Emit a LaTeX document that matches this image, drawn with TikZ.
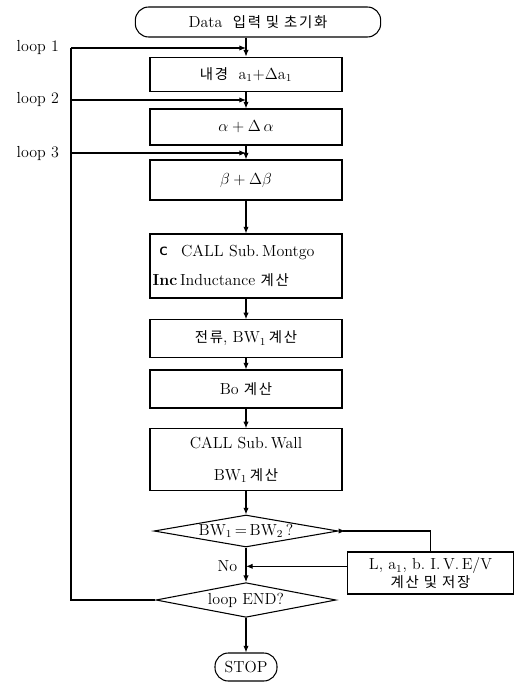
\documentclass[tikz,border=0pt]{standalone}
\usepackage{fontspec}
\usepackage{amsmath}
\usetikzlibrary{shapes.geometric, arrows.meta, positioning}
\newfontfamily\kr[Scale=0.9,LetterSpace=12]{Noto Sans CJK KR}

\begin{document}
\begin{tikzpicture}[
    x=0.75pt, y=-0.75pt, >={Latex[length=5pt,width=4pt]},
    every node/.style={font=\fontsize{12}{14}\selectfont},
    box/.style={rectangle, draw=black, thick, minimum width=144pt, inner sep=2pt, align=center},
    term/.style={rectangle, rounded corners=10pt, draw=black, thick, minimum height=22.5pt},
    decision/.style={diamond, draw=black, thick, inner sep=0pt}
]
    \useasboundingbox (0,0) rectangle (523,688);

    % Start
    \node[term, minimum width=184pt] (start) at (258,22) {Data\ \ {\kr 입력 및 초기화}};

    % Loop boxes
    \node[box, minimum height=26pt] (radius) at (246,74.5) {{\kr 내경}\ \ a$_1$+$\Delta$a$_1$};
    \node[box, minimum height=27pt] (alpha) at (246,127) {$\alpha+\Delta\,\alpha$};
    \node[box, minimum height=30pt] (beta) at (246,180) {$\beta+\Delta\beta$};

    % Subroutines
    \node[box, minimum height=48pt, text width=140pt, align=left] (montgo) at (246,266)
        {\hspace*{5pt}\raisebox{1pt}{\sffamily\bfseries\small C}\hspace{10pt}CALL\ Sub.\,Montgo\\[8pt]{\bfseries Inc}\,Inductance {\kr 계산}};
    \node[box, minimum height=28pt] (current) at (246,338.5) {{\kr 전류}, BW$_1$\,{\kr 계산}};
    \node[box, minimum height=28.5pt] (bo) at (246,389) {Bo {\kr 계산}};
    \node[box, minimum height=46pt] (wall) at (246,459.5) {CALL\ Sub.\,Wall\\[10pt]BW$_1$\,{\kr 계산}};

    % Decisions
    \node[decision, minimum width=138pt, minimum height=24pt, aspect=5.75] (check) at (246,531) {BW$_1$\,=\,BW$_2$\,?};
    \node[box, minimum width=125pt, minimum height=31.5pt, font=\fontsize{12}{13}\selectfont] (store) at (430.5,573)
        {L, a$_1$, b.\ I.\,V.\,E/V\\{\kr 계산 및 저장}};
    \node[anchor=east] (no) at (242,566) {No};
    \node[decision, minimum width=135pt, minimum height=26pt, aspect=5.2] (loopend) at (246,600) {loop END?};

    % Stop
    \node[term, minimum width=46.5pt, minimum height=21pt] (stop) at (246,667) {STOP};

    % Loop entries
    \coordinate (L1) at (71,48);
    \coordinate (L2) at (71,100);
    \coordinate (L3) at (71,153);
    \node[anchor=west] (lbl1) at (12,48) {loop 1};
    \node[anchor=west] (lbl2) at (12,100) {loop 2};
    \node[anchor=west] (lbl3) at (12,153) {loop 3};

    % Connections
    \draw[->, thick] (start.south -| radius.north) -- (radius.north);
    \draw[->, thick] (radius) -- (alpha);
    \draw[->, thick] (alpha) -- (beta);
    \draw[->, thick] (beta) -- (montgo);
    \draw[->, thick] (montgo) -- (current);
    \draw[->, thick] (current) -- (bo);
    \draw[->, thick] (bo) -- (wall);
    \draw[->, thick] (wall) -- (check);
    \draw[->, thick] (check) -- (loopend);
    \draw[->, thick] (loopend) -- (stop);
    \draw[{Latex[length=5pt,width=4pt,reversed]}-, thick] (check.east) -| (store.north);
    \draw[->, thick] ([yshift=5pt]store.west) -- ([yshift=5pt]store.west -| check.south);
    \draw[thick] (loopend.west) -| (L1);
    \draw[->, thick] (L1) -- (L1 -| radius.north);
    \draw[->, thick] (L2) -- (L2 -| alpha.north);
    \draw[->, thick] (L3) -- (L3 -| beta.north);
\end{tikzpicture}
\end{document}
